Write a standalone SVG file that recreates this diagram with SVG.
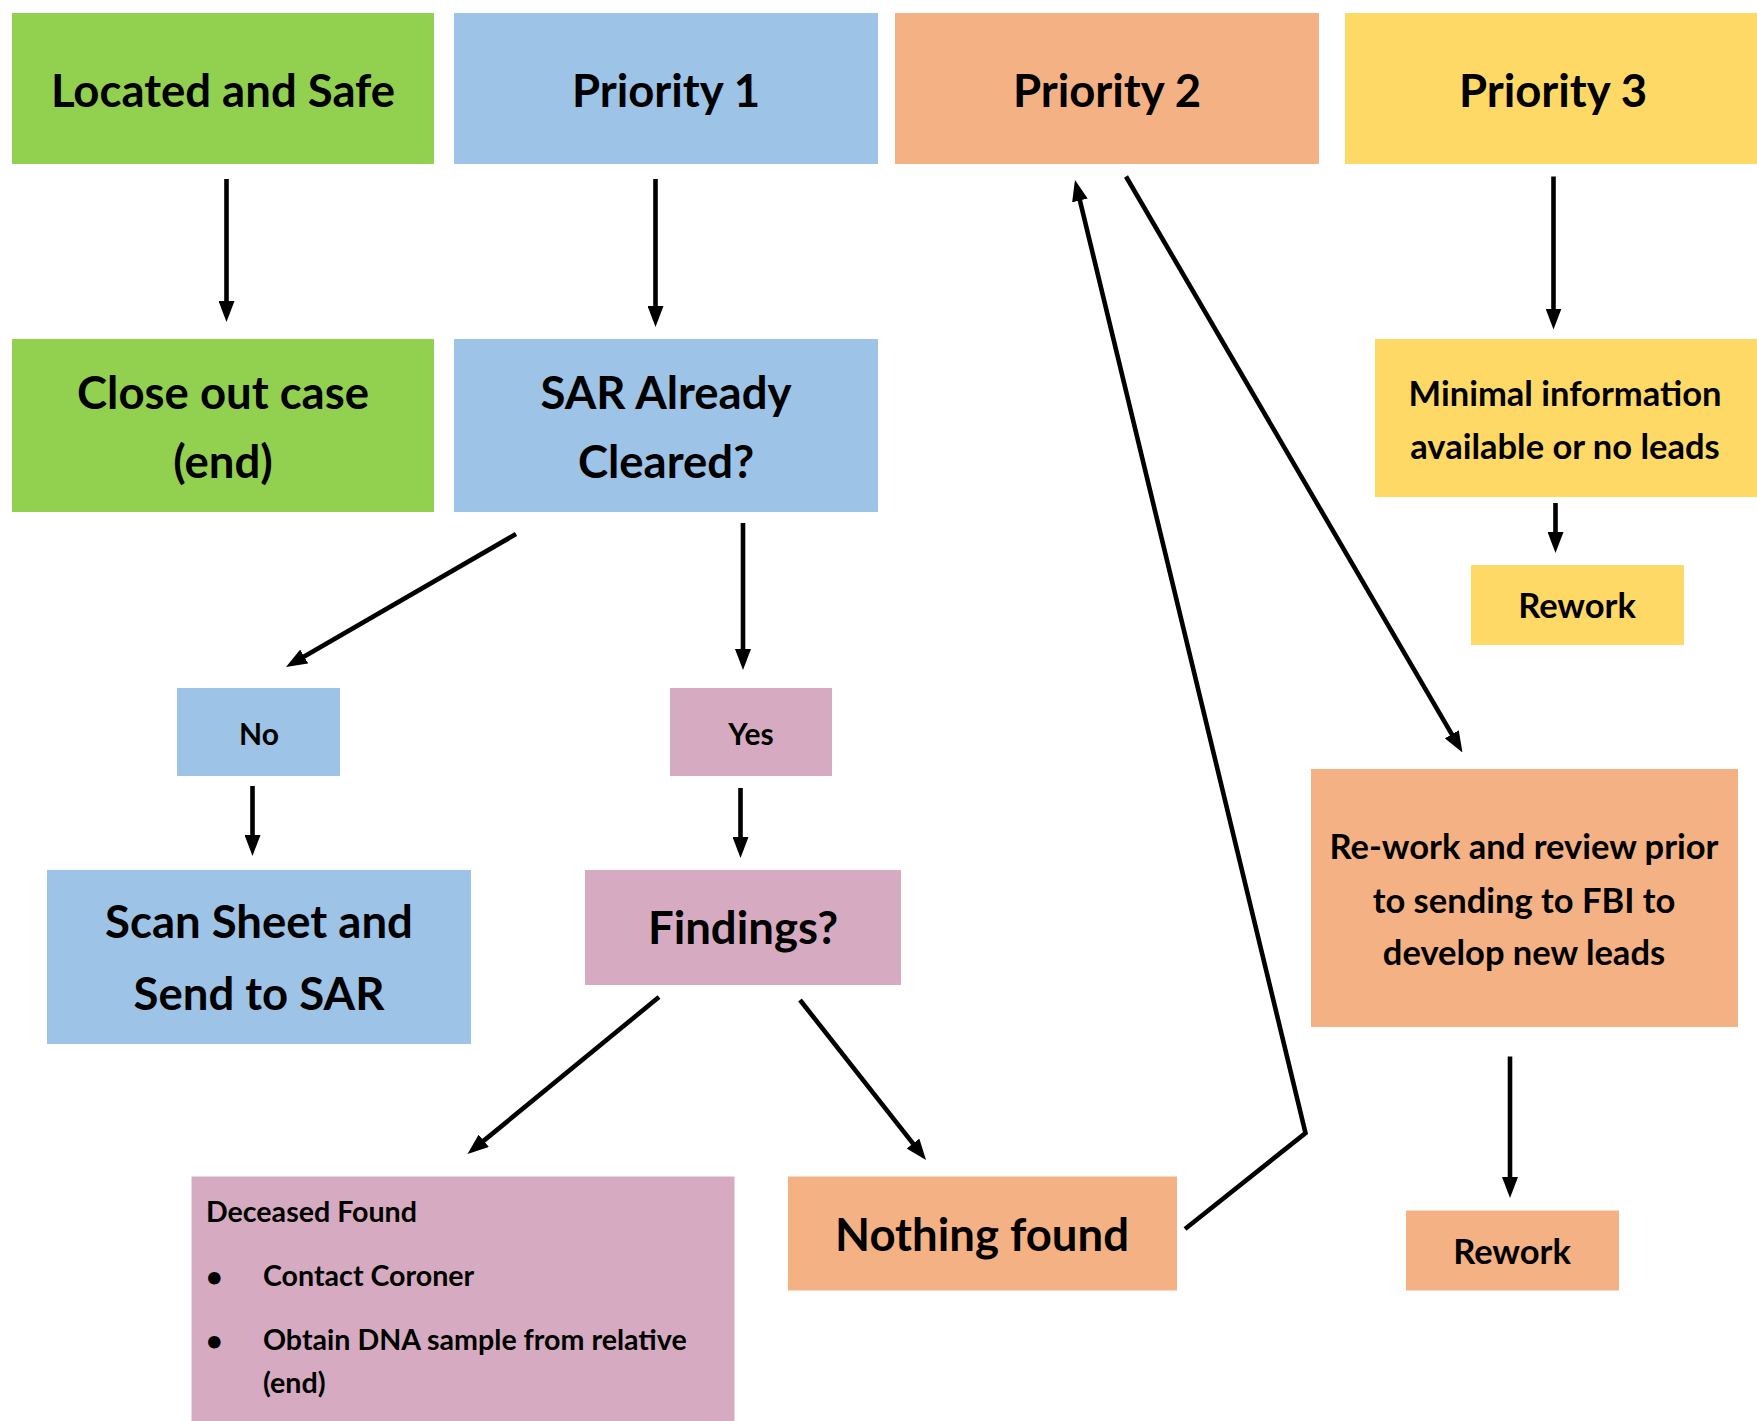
<svg xmlns="http://www.w3.org/2000/svg" width="1757" height="1421" viewBox="0 0 1757 1421">
<style>
text{font-family:Lato,"Open Sans","Liberation Sans",sans-serif;font-weight:bold;fill:#000}
.c{text-anchor:middle}
.green{fill:#92D050}.blue{fill:#9DC3E6}.orange{fill:#F4B183}.yellow{fill:#FFD966}.pink{fill:#D6ABC1}
.big{font-size:45.5px}.mid{font-size:34.5px}.sm{font-size:30px}.dl{font-size:28.6px}
#connectors line,#connectors polyline{stroke:#000;stroke-width:4.6;fill:none;marker-end:url(#ah)}
</style>
<defs>
<marker id="ah" markerUnits="userSpaceOnUse" markerWidth="21" markerHeight="16" refX="9" refY="8" orient="auto"><path d="M0,0 L21,8 L0,16 Z" fill="#000"/></marker>
</defs>
<rect width="1757" height="1421" fill="#fff"/>
<g id="located"><rect class="green" x="12" y="13" width="422" height="151"/><text class="c big" x="223" y="107">Located and Safe</text></g>
<g id="p1"><rect class="blue" x="454" y="13" width="424" height="151"/><text class="c big" x="666" y="107">Priority 1</text></g>
<g id="p2"><rect class="orange" x="895" y="13" width="424" height="151"/><text class="c big" x="1107" y="107">Priority 2</text></g>
<g id="p3"><rect class="yellow" x="1345" y="13" width="412" height="151"/><text class="c big" x="1553" y="107">Priority 3</text></g>
<g id="close"><rect class="green" x="12" y="339" width="422" height="173"/><text class="c big" x="223" y="409">Close out case</text><text class="c big" x="223" y="478">(end)</text></g>
<g id="sar"><rect class="blue" x="454" y="339" width="424" height="173"/><text class="c big" x="666" y="409">SAR Already</text><text class="c big" x="666" y="478">Cleared?</text></g>
<g id="minimal"><rect class="yellow" x="1375" y="339" width="382" height="158"/><text class="c mid" x="1565" y="406">Minimal information</text><text class="c mid" x="1565" y="459">available or no leads</text></g>
<g id="rework3"><rect class="yellow" x="1471" y="565" width="213" height="80"/><text class="c mid" x="1577" y="618">Rework</text></g>
<g id="no"><rect class="blue" x="177" y="688" width="163" height="88"/><text class="c sm" x="259" y="745">No</text></g>
<g id="yes"><rect class="pink" x="670" y="688" width="162" height="88"/><text class="c sm" x="751" y="745">Yes</text></g>
<g id="scan"><rect class="blue" x="47" y="870" width="424" height="174"/><text class="c big" x="259" y="938">Scan Sheet and</text><text class="c big" x="259" y="1010">Send to SAR</text></g>
<g id="findings"><rect class="pink" x="585" y="870" width="316" height="115"/><text class="c big" x="743" y="944">Findings?</text></g>
<g id="rereview"><rect class="orange" x="1311" y="769" width="427" height="258"/><text class="c mid" x="1524" y="859">Re-work and review prior</text><text class="c mid" x="1524" y="913">to sending to FBI to</text><text class="c mid" x="1524" y="965">develop new leads</text></g>
<g id="deceased"><rect class="pink" x="191.5" y="1176.5" width="543" height="245"/>
<text class="dl" x="206" y="1222">Deceased Found</text>
<text class="dl" x="206" y="1287">•</text><text class="dl" x="263" y="1286">Contact Coroner</text>
<text class="dl" x="206" y="1351">•</text><text class="dl" x="263" y="1350">Obtain DNA sample from relative</text>
<text class="dl" x="263" y="1393">(end)</text></g>
<g id="nothing"><rect class="orange" x="788" y="1176.5" width="389" height="114"/><text class="c big" x="982" y="1251">Nothing found</text></g>
<g id="rework2"><rect class="orange" x="1406" y="1210.5" width="213" height="80"/><text class="c mid" x="1512" y="1264">Rework</text></g>
<g id="connectors">
<line x1="226.5" y1="179" x2="226.5" y2="310"/>
<line x1="655.5" y1="179" x2="655.5" y2="315"/>
<line x1="516" y1="534" x2="296.4" y2="661"/>
<line x1="743" y1="523" x2="743" y2="658"/>
<line x1="252.5" y1="786" x2="252.5" y2="844"/>
<line x1="740.5" y1="788" x2="740.5" y2="846"/>
<line x1="659" y1="997" x2="476.8" y2="1146.4"/>
<line x1="800" y1="1000" x2="918.6" y2="1150.6"/>
<polyline points="1185,1229 1305.5,1133 1077.8,191.7"/>
<line x1="1126" y1="176.5" x2="1456.4" y2="742.1"/>
<line x1="1553.5" y1="176.5" x2="1553.5" y2="317.5"/>
<line x1="1555.5" y1="503" x2="1555.5" y2="541"/>
<line x1="1510" y1="1056.5" x2="1510" y2="1186"/>
</g>
</svg>
